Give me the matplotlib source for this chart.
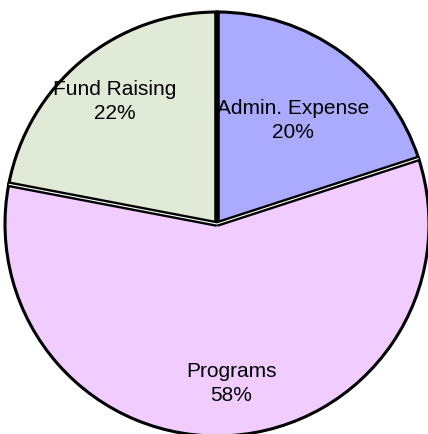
import numpy as np
import matplotlib
matplotlib.use("Agg")
import matplotlib.pyplot as plt

# slice data, clockwise from 12 o'clock
categories = ["Admin. Expense", "Programs", "Fund Raising"]
shares = [20, 58, 22]
colors = ["#aaaaff", "#f0ccff", "#e0ead6"]

# label placement: distance from center and small angle nudge (deg)
label_dist = [0.61, 0.75, 0.755]
label_nudge = [0, 1.5, 0]

plt.rcParams["font.family"] = ["Liberation Sans", "DejaVu Sans"]

fig = plt.figure(figsize=(4.28, 4.35), dpi=100)
ax = fig.add_axes([0, 0, 1, 1])

wedges, _ = ax.pie(shares, colors=colors, startangle=90, counterclock=False,
                   radius=1.0, wedgeprops={"edgecolor": "black", "linewidth": 2.2})

# radial separators: thick black at the top, black/white/black on the sides
for w in wedges:
    a = np.deg2rad(w.theta2)
    xs, ys = [0, np.cos(a)], [0, np.sin(a)]
    if abs((w.theta2 % 360) - 90) < 1e-6:
        ax.plot(xs, ys, color="black", lw=4, solid_capstyle="butt")
    else:
        ax.plot(xs, ys, color="black", lw=4.2, solid_capstyle="butt")
        ax.plot(xs, ys, color="white", lw=0.8, solid_capstyle="butt")

for w, name, val, d, nudge in zip(wedges, categories, shares, label_dist, label_nudge):
    mid = np.deg2rad((w.theta1 + w.theta2) / 2 + nudge)
    ax.text(d * np.cos(mid), d * np.sin(mid), f"{name}\n{val}%",
            ha="center", va="center", fontsize=15, linespacing=1.3)

# pixel mapping: center at (217, 225), radius 212 px
ax.set_xlim(-217 / 212, (428 - 217) / 212)
ax.set_ylim(-(435 - 225) / 212, 225 / 212)
ax.set_aspect("auto")
ax.axis("off")

fig.savefig("out.png", dpi=100)
